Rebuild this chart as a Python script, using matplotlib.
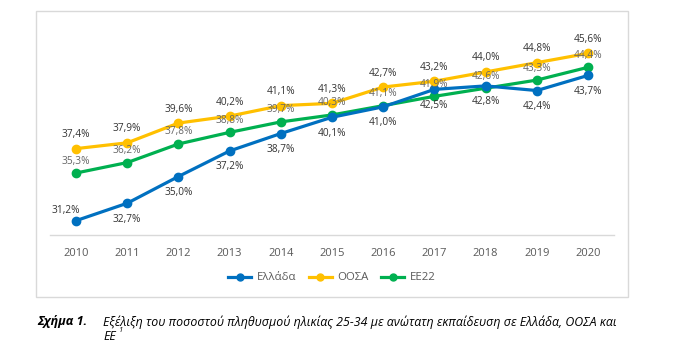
import matplotlib
matplotlib.use("Agg")
import matplotlib.pyplot as plt
from matplotlib.patches import Rectangle
from matplotlib.lines import Line2D

plt.rcParams['font.family'] = ['Open Sans', 'DejaVu Sans']

# Δεδομένα
years = ['2010', '2011', '2012', '2013', '2014', '2015', '2016', '2017', '2018', '2019', '2020']
ellada = [31.2, 32.7, 35.0, 37.2, 38.7, 40.1, 41.0, 42.5, 42.8, 42.4, 43.7]
oosa = [37.4, 37.9, 39.6, 40.2, 41.1, 41.3, 42.7, 43.2, 44.0, 44.8, 45.6]
ee22 = [35.3, 36.2, 37.8, 38.8, 39.7, 40.3, 41.1, 41.9, 42.6, 43.3, 44.4]
series_names = ['Ελλάδα', 'ΟΟΣΑ', 'ΕΕ22']

c_blue = '#0070C0'
c_yellow = '#FFC000'
c_green = '#00B050'

W, H = 697, 347
fig = plt.figure(figsize=(W / 100, H / 100), dpi=100)

# πλαίσιο γραφήματος
fig.patches.append(Rectangle((36 / W, 1 - 297 / H), (628 - 36) / W, (297 - 11) / H,
                             transform=fig.transFigure, fill=False,
                             edgecolor='#d9d9d9', linewidth=1))

ax = fig.add_axes([50.4 / W, 1 - 234.6 / H, 563.2 / W, (234.6 - 37.1) / H])
x = list(range(len(years)))

for vals, col in [(ee22, c_green), (ellada, c_blue), (oosa, c_yellow)]:
    ax.plot(x, vals, color=col, linewidth=2.3, marker='o', markersize=6,
            solid_capstyle='round', zorder=3)

lab_dark = '#333333'
lab_gray = '#666666'
fs_lab = 7.3


def pct(v):
    return ('%.1f%%' % v).replace('.', ',')


for i in x:
    ax.annotate(pct(oosa[i]), (i, oosa[i]), xytext=(0, 14), textcoords='offset pixels',
                ha='center', va='center', fontsize=fs_lab, color=lab_dark, zorder=5)
    ax.annotate(pct(ee22[i]), (i, ee22[i]), xytext=(0, 12), textcoords='offset pixels',
                ha='center', va='center', fontsize=fs_lab, color=lab_gray, zorder=5)
    if i == 0:
        off = (-10, 10)
    else:
        off = (0, -16)
    ax.annotate(pct(ellada[i]), (i, ellada[i]), xytext=off, textcoords='offset pixels',
                ha='center', va='center', fontsize=fs_lab, color=lab_dark, zorder=5)

ax.set_xlim(-0.5, 10.5)
ax.set_ylim(30, 47)
ax.set_xticks(x)
ax.set_xticklabels(years)
ax.set_yticks([])
ax.tick_params(axis='x', length=0, pad=10, labelsize=8, labelcolor='#595959')
for s in ['top', 'left', 'right']:
    ax.spines[s].set_visible(False)
ax.spines['bottom'].set_color('#d9d9d9')
ax.spines['bottom'].set_linewidth(1)
ax.patch.set_alpha(0)

handles = [Line2D([], [], color=c, linewidth=2.3, marker='o', markersize=5)
           for c in (c_blue, c_yellow, c_green)]
leg = fig.legend(handles, series_names, loc='center', bbox_to_anchor=(332 / W, 1 - 278 / H),
                 ncol=3, frameon=False, fontsize=8.2, handlelength=2.0,
                 handletextpad=0.5, columnspacing=1.1, labelcolor='#595959')

# λεζάντα
fig.text(37 / W, 1 - 322 / H, 'Σχήμα 1.', fontsize=9.0, fontweight='bold', fontstyle='italic',
         ha='left', va='center', color='#000000')
fig.text(103 / W, 1 - 322 / H,
         'Εξέλιξη του ποσοστού πληθυσμού ηλικίας 25-34 με ανώτατη εκπαίδευση σε Ελλάδα, ΟΟΣΑ και',
         fontsize=8.9, fontstyle='italic', ha='left', va='center', color='#000000')
fig.text(103 / W, 1 - 336 / H, 'ΕΕ', fontsize=8.9, fontstyle='italic',
         ha='left', va='center', color='#000000')
fig.text(119 / W, 1 - 331 / H, '1', fontsize=5.5, fontstyle='italic',
         ha='left', va='center', color='#000000')

fig.savefig('out.png', dpi=100)
